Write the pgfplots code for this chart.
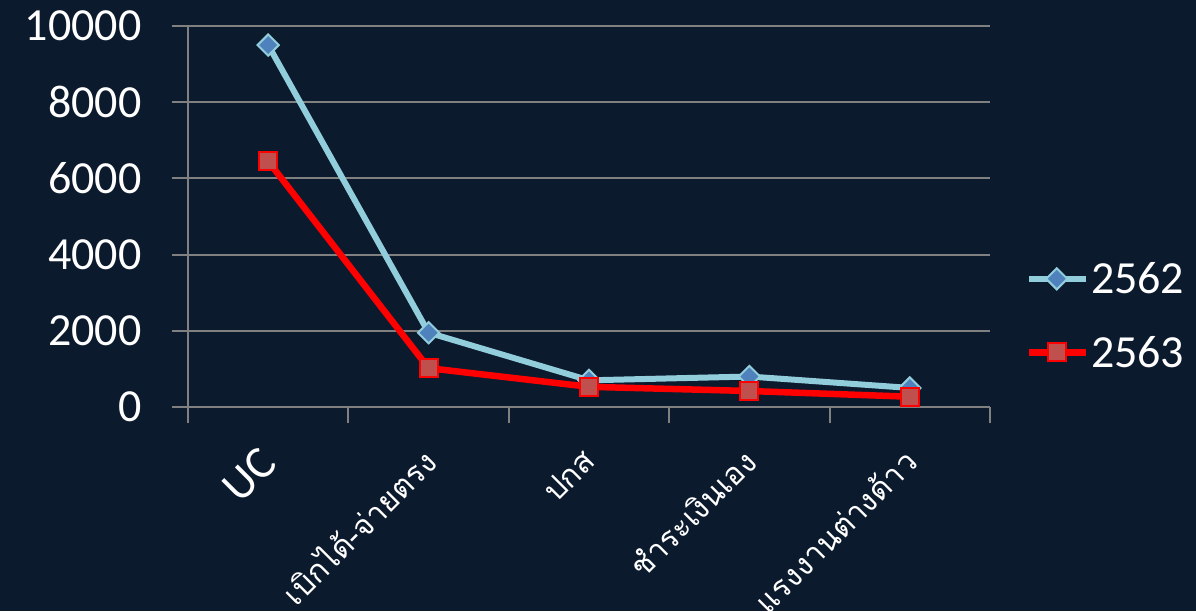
\documentclass[border=0pt]{standalone}
\usepackage{pgfplots}
\pgfplotsset{compat=1.18}
\usepackage{fontspec}
\setmainfont{Carlito}
\newfontfamily\thaifont[Script=Thai]{Loma}
\definecolor{bg}{RGB}{12,26,45}
\definecolor{gridgray}{RGB}{128,128,128}
\definecolor{lineblue}{RGB}{146,205,220}
\definecolor{markblue}{RGB}{79,129,189}
\definecolor{markred}{RGB}{192,80,77}

\begin{document}
\begin{tikzpicture}[x=1pt,y=1pt]
\path[use as bounding box] (0,0) rectangle (1196,611);
\clip (0,0) rectangle (1196,611);
\fill[bg] (0,0) rectangle (1196,611);
\begin{axis}[
  at={(188pt,204pt)}, anchor=south west,
  scale only axis, width=802pt, height=381pt,
  xmin=-0.5, xmax=4.5, ymin=0, ymax=10000,
  axis lines*=left,
  axis line style={gridgray, line width=2pt, -},
  ytick={0,2000,...,10000},
  scaled y ticks=false,
  /pgf/number format/1000 sep={},
  /pgf/number format/fixed,
  /pgf/number format/assume math mode=true,
  ymajorgrids, grid style={gridgray, line width=2pt},
  xtick={0,...,4},
  major x tick style={draw=none},
  minor xtick={-0.5,0.5,...,4.5},
  tick align=outside,
  major tick length=16pt, minor tick length=16pt,
  every tick/.style={gridgray, line width=2pt},
  ticklabel style={text=white, font=\fontsize{46}{50}\selectfont},
  yticklabel style={xshift=-27pt},
  xticklabels={{\fontsize{46}{50}\selectfont UC},
    {\thaifont เบิกได้-จ่ายตรง}, {\thaifont ปกส}, {\thaifont ชำระเงินเอง}, {\thaifont แรงงานต่างด้าว}},
  x tick label style={xshift=3pt, yshift=-30pt, rotate=45, anchor=east, font=\fontsize{31}{36}\selectfont},
  legend style={at={(1.044,0.24)}, anchor=west, draw=none, fill=none,
    text=white, font=\fontsize{46}{50}\selectfont, row sep=37pt,
    inner sep=0pt},
  legend cell align=left,
  legend image code/.code={\draw[mark repeat=2,mark phase=2] plot coordinates {(0pt,0pt)(28pt,0pt)(57pt,0pt)};},
]
\addplot[lineblue, line width=6pt, mark=square*, mark size=7.5pt,
  mark options={rotate=45, fill=markblue, draw=lineblue, line width=2pt}]
  coordinates {(0,9500) (1,1950) (2,700) (3,800) (4,500)};
\addlegendentry{2562}
\addplot[red, line width=6.5pt, mark=square*, mark size=9pt,
  mark options={fill=markred, draw=red, line width=2pt}]
  coordinates {(0,6450) (1,1020) (2,530) (3,420) (4,270)};
\addlegendentry{2563}
\end{axis}
\end{tikzpicture}
\end{document}
